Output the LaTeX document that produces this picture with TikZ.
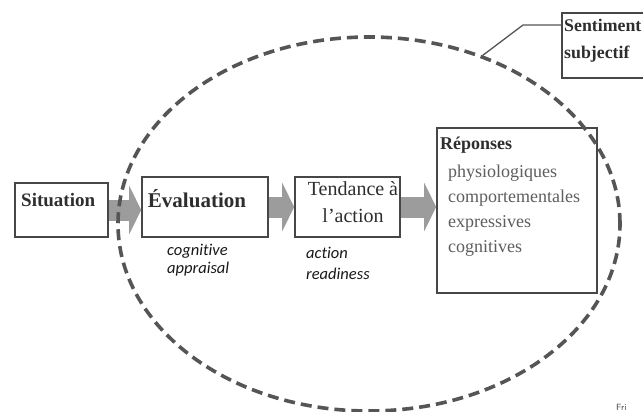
\documentclass[tikz,border=0pt]{standalone}
\usepackage{fontspec}
\setmainfont{Liberation Serif}
\newfontfamily\carl[Ligatures=NoCommon]{Carlito}
\usetikzlibrary{arrows.meta,shapes.geometric}
\definecolor{boxc}{HTML}{474747}
\definecolor{arrc}{HTML}{9C9C9C}
\definecolor{dashc}{HTML}{555555}
\definecolor{txtc}{HTML}{2E2E2E}
\definecolor{lstc}{HTML}{5E5E5E}
\begin{document}
\begin{tikzpicture}[x=1pt,y=-1pt,
  box/.style={draw=boxc, line width=1.6pt, inner sep=0pt, rectangle},
  flow/.style={line width=21pt, draw=arrc, -{Triangle[length=12pt,width=48pt]}},
  lbl/.style={inner sep=0pt, text=txtc},
  head/.style={lbl, font=\fontsize{19}{22}\selectfont\bfseries},
  big/.style={lbl, font=\fontsize{20}{24}\selectfont},
  item/.style={inner sep=0pt, text=lstc, anchor=base west, font=\fontsize{18}{22}\selectfont},
  note/.style={inner sep=0pt, text=black!90, anchor=base west, font=\fontsize{16.5}{18}\selectfont\carl\itshape},
  ring/.style={draw=dashc, line width=3.6pt, dash pattern=on 11pt off 6pt, ellipse, inner sep=0pt},
  leader/.style={draw=dashc, line width=1.3pt}
]
\useasboundingbox (0,0) rectangle (643,412);
\clip (0,0) rectangle (643,412);
\fill[white] (0,0) rectangle (643,412);

% boxes
\node[box, minimum width=93pt, minimum height=54pt] (sit) at (61.5,210) {};
\node[box, minimum width=126pt, minimum height=60pt] (eval) at (205,207) {};
\node[box, minimum width=105pt, minimum height=60pt] (tend) at (347.5,207) {};
\node[box, minimum width=160pt, minimum height=165pt] (rep) at (517,210.5) {};
\node[box, minimum width=110pt, minimum height=65pt] (sent) at (617,45.5) {};

% box texts
\node[head, anchor=base west] (tsit) at (21,206) {Situation};
\node[big, anchor=base, font=\fontsize{21}{24}\selectfont\bfseries] (teval) at (197,207) {Évaluation};
\node[big, anchor=base] (ttend1) at (353,195) {Tendance à};
\node[big, anchor=base] (ttend2) at (353,222) {l'action};
\node[head, anchor=base west, font=\fontsize{18}{22}\selectfont\bfseries] (trep) at (440,149) {Réponses};
\node[item] (i1) at (448,177) {physiologiques};
\node[item] (i2) at (448,202) {comportementales};
\node[item] (i3) at (448,227) {expressives};
\node[item] (i4) at (448,252) {cognitives};
\node[head, anchor=base west, font=\fontsize{17.8}{22}\selectfont\bfseries] (ts1) at (564,32) {Sentiment};
\node[head, anchor=base west, font=\fontsize{17.8}{22}\selectfont\bfseries] (ts2) at (564,59) {subjectif};

% notes
\node[note] (n1) at (167,255) {cognitive};
\node[note] (n2) at (167,273) {appraisal};
\node[note] (n3) at (306,258) {action};
\node[note] (n4) at (306,279) {readiness};

% arrows
\draw[flow] (sit.east) -- (sit.east -| eval.west);
\draw[flow] (eval.east) -- (tend.west);
\draw[flow] (tend.east) -- (tend.east -| rep.west);

% dashed ellipse
\node[ring, minimum width=502pt, minimum height=374pt] (feel) at (369,224) {};

% leader
\coordinate (lk) at (523,25);
\draw[leader] (sent.west |- lk) -- (lk) -- (feel.56);

% cut-off source note
\node[inner sep=0pt, anchor=base west, font=\fontsize{9}{10}\selectfont\sffamily, text=black!70] (src) at (616,410) {Fri};
\end{tikzpicture}
\end{document}
